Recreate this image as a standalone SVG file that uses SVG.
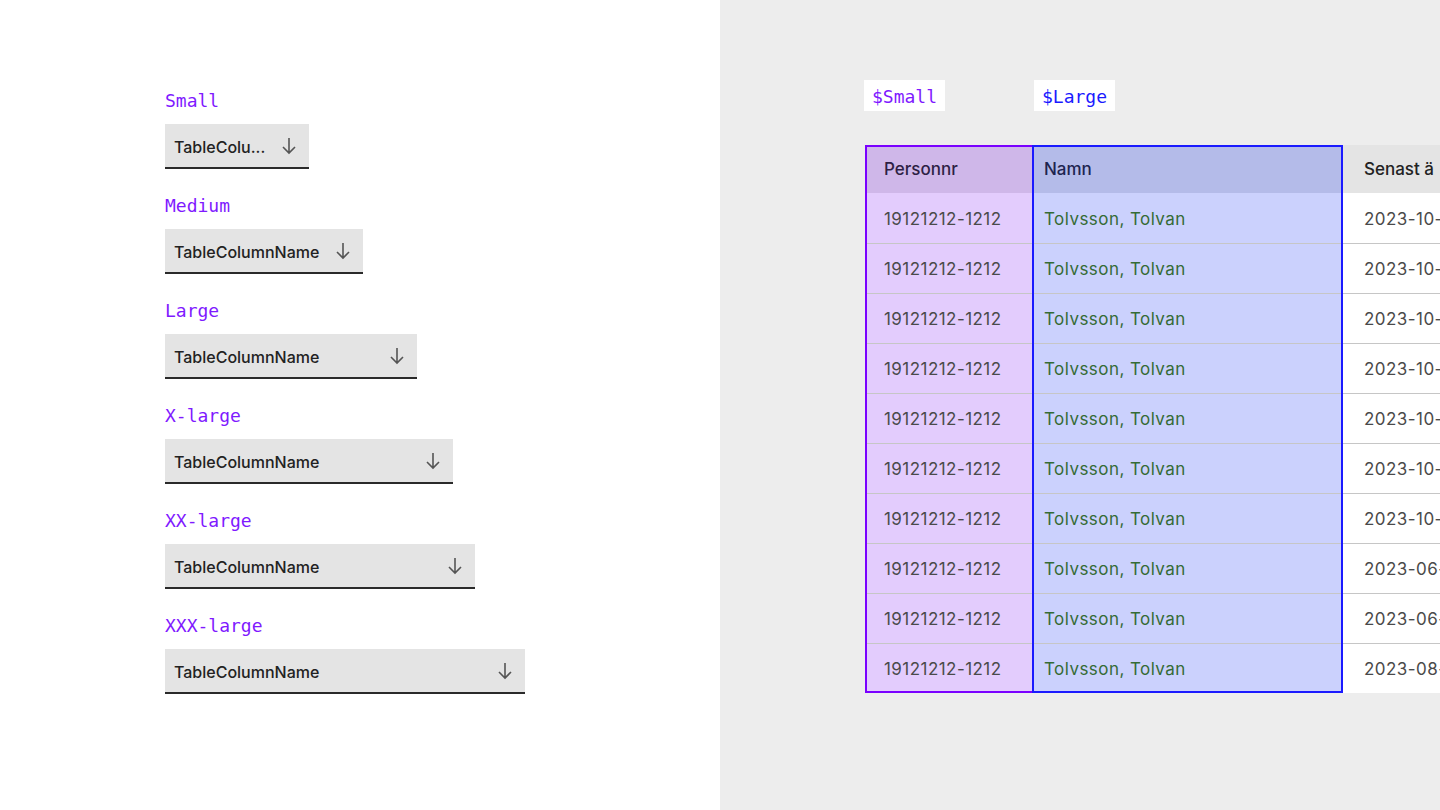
<svg xmlns="http://www.w3.org/2000/svg" width="1440" height="810" viewBox="0 0 1440 810">
<style>
.lbl{font-family:"DejaVu Sans Mono","Liberation Mono",monospace;font-size:18px;fill:#7f1aff}
.btn{fill:#e4e4e4}
.bar{fill:#2a2a2a}
.bt{font-family:Inter,"Noto Sans",sans-serif;font-size:16px;font-weight:500;fill:#222}
.arr{stroke:#555;stroke-width:1.6;fill:none}
.th{font-family:Inter,"Noto Sans",sans-serif;font-size:17px;font-weight:500;fill:#222}
.td{font-family:Inter,"Noto Sans",sans-serif;font-size:17px;fill:#4a4a4a;letter-spacing:0.45px}
.nm{fill:#356b35}
.sep{stroke:#c6c6c6;stroke-width:1}
</style>
<rect width="720" height="810" fill="#fff"/>
<rect x="720" width="720" height="810" fill="#ededed"/>
<g id="sizes">
<text class="lbl" x="165" y="107">Small</text>
<text class="lbl" x="165" y="212">Medium</text>
<text class="lbl" x="165" y="317">Large</text>
<text class="lbl" x="165" y="422">X-large</text>
<text class="lbl" x="165" y="527">XX-large</text>
<text class="lbl" x="165" y="632">XXX-large</text>
</g>
<g id="btn-small"><rect class="btn" x="165" y="124" width="144" height="44"/><rect class="bar" x="165" y="167" width="144" height="2"/><text class="bt" x="174" y="153">TableColu...</text><path class="arr" d="M289 138v15M283 147l6 6 6-6"/></g>
<g id="btn-medium"><rect class="btn" x="165" y="229" width="198" height="44"/><rect class="bar" x="165" y="272" width="198" height="2"/><text class="bt" x="174" y="258">TableColumnName</text><path class="arr" d="M343 243v15M337 252l6 6 6-6"/></g>
<g id="btn-large"><rect class="btn" x="165" y="334" width="252" height="44"/><rect class="bar" x="165" y="377" width="252" height="2"/><text class="bt" x="174" y="363">TableColumnName</text><path class="arr" d="M397 348v15M391 357l6 6 6-6"/></g>
<g id="btn-xlarge"><rect class="btn" x="165" y="439" width="288" height="44"/><rect class="bar" x="165" y="482" width="288" height="2"/><text class="bt" x="174" y="468">TableColumnName</text><path class="arr" d="M433 453v15M427 462l6 6 6-6"/></g>
<g id="btn-xxlarge"><rect class="btn" x="165" y="544" width="310" height="44"/><rect class="bar" x="165" y="587" width="310" height="2"/><text class="bt" x="174" y="573">TableColumnName</text><path class="arr" d="M455 558v15M449 567l6 6 6-6"/></g>
<g id="btn-xxxlarge"><rect class="btn" x="165" y="649" width="360" height="44"/><rect class="bar" x="165" y="692" width="360" height="2"/><text class="bt" x="174" y="678">TableColumnName</text><path class="arr" d="M505 663v15M499 672l6 6 6-6"/></g>
<g id="tags">
<rect x="864" y="80" width="81" height="31" fill="#fff"/><text class="lbl" x="872" y="103">$Small</text>
<rect x="1034" y="80" width="81" height="31" fill="#fff"/><text class="lbl" x="1042" y="103" style="fill:#1a1aff">$Large</text>
</g>
<g id="table">
<rect x="865" y="145" width="575" height="548" fill="#fff"/>
<rect x="865" y="145" width="575" height="48" fill="#e4e4e4"/>
<rect x="865" y="145" width="168" height="548" fill="#e3ccfd"/>
<rect x="865" y="145" width="168" height="48" fill="#cfb7e9"/>
<rect x="1033" y="145" width="310" height="548" fill="#cbd1fd"/>
<rect x="1033" y="145" width="310" height="48" fill="#b4bbe9"/>
<g class="sep">
<line x1="865" y1="243.5" x2="1440" y2="243.5"/><line x1="865" y1="293.5" x2="1440" y2="293.5"/><line x1="865" y1="343.5" x2="1440" y2="343.5"/><line x1="865" y1="393.5" x2="1440" y2="393.5"/><line x1="865" y1="443.5" x2="1440" y2="443.5"/><line x1="865" y1="493.5" x2="1440" y2="493.5"/><line x1="865" y1="543.5" x2="1440" y2="543.5"/><line x1="865" y1="593.5" x2="1440" y2="593.5"/><line x1="865" y1="643.5" x2="1440" y2="643.5"/>
</g>
<text class="th" x="884" y="175" style="fill:#2e1f45">Personnr</text>
<text class="th" x="1044" y="175" style="fill:#1e2450">Namn</text>
<text class="th" x="1364" y="175">Senast ä</text>
<g class="td">
<text x="884" y="225">19121212-1212</text><text x="884" y="275">19121212-1212</text><text x="884" y="325">19121212-1212</text><text x="884" y="375">19121212-1212</text><text x="884" y="425">19121212-1212</text><text x="884" y="475">19121212-1212</text><text x="884" y="525">19121212-1212</text><text x="884" y="575">19121212-1212</text><text x="884" y="625">19121212-1212</text><text x="884" y="675">19121212-1212</text>
</g>
<g class="td nm">
<text x="1044" y="225">Tolvsson, Tolvan</text><text x="1044" y="275">Tolvsson, Tolvan</text><text x="1044" y="325">Tolvsson, Tolvan</text><text x="1044" y="375">Tolvsson, Tolvan</text><text x="1044" y="425">Tolvsson, Tolvan</text><text x="1044" y="475">Tolvsson, Tolvan</text><text x="1044" y="525">Tolvsson, Tolvan</text><text x="1044" y="575">Tolvsson, Tolvan</text><text x="1044" y="625">Tolvsson, Tolvan</text><text x="1044" y="675">Tolvsson, Tolvan</text>
</g>
<g class="td">
<text x="1364" y="225">2023-10-</text><text x="1364" y="275">2023-10-</text><text x="1364" y="325">2023-10-</text><text x="1364" y="375">2023-10-</text><text x="1364" y="425">2023-10-</text><text x="1364" y="475">2023-10-</text><text x="1364" y="525">2023-10-</text><text x="1364" y="575">2023-06-</text><text x="1364" y="625">2023-06-</text><text x="1364" y="675">2023-08-</text>
</g>
<rect x="866" y="146" width="167" height="546" fill="none" stroke="#7a00ff" stroke-width="2"/>
<rect x="1033" y="146" width="309" height="546" fill="none" stroke="#1a1aff" stroke-width="2"/>
</g>
</svg>
